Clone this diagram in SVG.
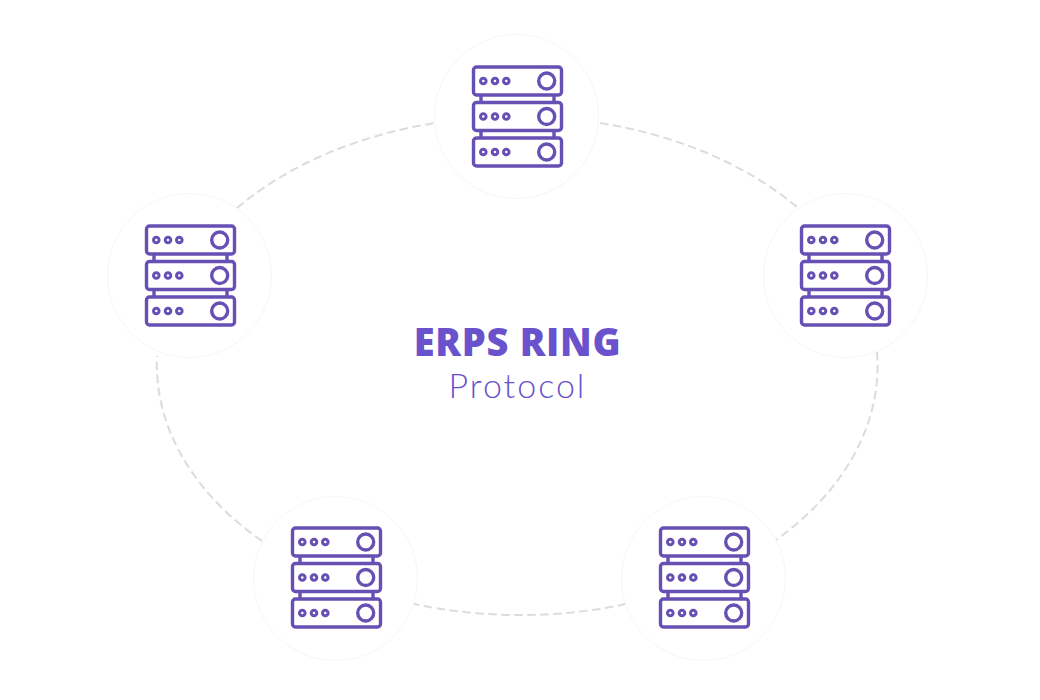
<svg xmlns="http://www.w3.org/2000/svg" width="1040" height="700" viewBox="0 0 1040 700">
<style>
.disc{fill:#fff;stroke:#f6f6f6;stroke-width:1}
.ring{fill:none;stroke:#dcdcdc;stroke-width:2;stroke-dasharray:8.500 4.500}
.s{fill:none;stroke:#6650b4;stroke-width:3.400}
.d{fill:none;stroke:#6650b4;stroke-width:3}
.t1{font-family:"Open Sans","Lato",sans-serif;font-weight:800;font-size:38px;letter-spacing:.7px;fill:#6a52cc;text-anchor:middle}
.t2{font-family:"Lato","Open Sans",sans-serif;font-weight:300;font-size:34px;letter-spacing:2px;fill:#6a52cc;text-anchor:middle}
</style>
<defs>
<g id="server">
<path class="s" d="M-35 -21V-15M38 -21V-15M-35 15V21M38 15V21"/>
<g id="rack">
<rect class="s" x="-42.500" y="-49" width="88" height="28" rx="3"/>
<circle class="d" cx="-32.700" cy="-35" r="2.800"/><circle class="d" cx="-21" cy="-35" r="2.800"/><circle class="d" cx="-9.700" cy="-35" r="2.800"/>
<circle class="s" cx="30.700" cy="-35" r="8"/>
</g>
<use href="#rack" y="35.500"/>
<use href="#rack" y="71"/>
</g>
</defs>
<rect width="1040" height="700" fill="#fff"/>
<g id="connectors">
<path class="ring" d="M600 123A360 250 0 0 1 797 207"/>
<path class="ring" d="M877 352A360 250 0 0 1 776 540"/>
<path class="ring" d="M626 604A360 250 0 0 1 414 604"/>
<path class="ring" d="M262 541A360 250 0 0 1 157 356"/>
<path class="ring" d="M237 208A360 250 0 0 1 435 123"/>
</g>
<g id="node-top"><circle class="disc" cx="516.500" cy="116.500" r="82"/><use href="#server" x="516" y="116"/></g>
<g id="node-left"><circle class="disc" cx="189.500" cy="275.500" r="82"/><use href="#server" x="189" y="275"/></g>
<g id="node-right"><circle class="disc" cx="845.500" cy="275.500" r="82"/><use href="#server" x="844" y="275"/></g>
<g id="node-bottom-left"><circle class="disc" cx="335.500" cy="578.500" r="82"/><use href="#server" x="335" y="577"/></g>
<g id="node-bottom-right"><circle class="disc" cx="703.500" cy="578.500" r="82"/><use href="#server" x="703" y="577"/></g>
<g id="label">
<text class="t1" x="517.500" y="356">ERPS RING</text>
<text class="t2" x="517.500" y="398">Protocol</text>
</g>
</svg>
